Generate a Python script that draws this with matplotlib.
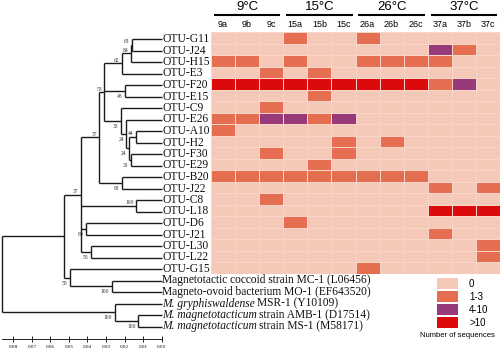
import numpy as np
import matplotlib
matplotlib.use('Agg')
import matplotlib.pyplot as plt
from matplotlib.colors import ListedColormap, BoundaryNorm
import matplotlib.transforms as mtransforms

# tree leaves, top to bottom
leaves = ["OTU-G11", "OTU-J24", "OTU-H15", "OTU-E3", "OTU-F20", "OTU-E15",
          "OTU-C9", "OTU-E26", "OTU-A10", "OTU-H2", "OTU-F30", "OTU-E29",
          "OTU-B20", "OTU-J22", "OTU-C8", "OTU-L18", "OTU-D6", "OTU-J21",
          "OTU-L30", "OTU-L22", "OTU-G15",
          "Magnetotactic coccoid strain MC-1 (L06456)",
          "Magneto-ovoid bacterium MO-1 (EF643520)",
          "M. gryphiswaldense MSR-1 (Y10109)",
          "M. magnetotacticum strain AMB-1 (D17514)",
          "M. magnetotacticum strain MS-1 (M58171)"]
leaf_parent = ["A", "A", "B", "C", "D", "D", "F", "G", "AH", "AH", "FE", "FE",
               "BJ", "BJ", "CL", "CL", "DJ", "DJ", "LL", "LL", "S",
               "MM", "MM", "T", "U", "U"]

# internal nodes: parent, height (distance from tips) and bootstrap support
node_names = ["root", "R", "Q", "P", "E", "C", "B", "A", "D", "F", "G", "H",
              "AH", "FE", "BJ", "CL", "DJ", "LL", "S", "MM", "T", "U"]
node_parent = [None, "root", "R", "Q", "P", "E", "C", "B", "E", "E", "F", "G",
               "H", "H", "P", "Q", "Q", "Q", "R", "S", "root", "T"]
node_height = [0.0862, 0.0525, 0.0435, 0.0336, 0.0309, 0.0216, 0.0166, 0.0161,
               0.0198, 0.0221, 0.0191, 0.0175, 0.0139, 0.0167, 0.0216, 0.0137,
               0.0408, 0.0381, 0.0494, 0.0270, 0.0252, 0.0126]
node_support = [None, None, 37, 37, 53, 62, 84, 63, 48, 33, 24, 24,
                44, 33, 93, 100, 80, 55, 58, 100, 100, 100]
label_above = {"A", "B", "C", "E", "AH", "CL", "Q", "P"}

# heatmap
samples = ['9a', '9b', '9c', '15a', '15b', '15c', '26a', '26b', '26c', '37a', '37b', '37c']
temps = ['9°C', '15°C', '26°C', '37°C']
# 0: "0", 1: "1-3", 2: "4-10", 3: ">10"
counts = [
    [0, 0, 0, 1, 0, 0, 1, 0, 0, 0, 0, 0],  # G11
    [0, 0, 0, 0, 0, 0, 0, 0, 0, 2, 1, 0],  # J24
    [1, 1, 0, 1, 0, 0, 1, 1, 1, 1, 0, 0],  # H15
    [0, 0, 1, 0, 1, 0, 0, 0, 0, 0, 0, 0],  # E3
    [3, 3, 3, 3, 3, 3, 3, 3, 3, 1, 2, 0],  # F20
    [0, 0, 0, 0, 1, 0, 0, 0, 0, 0, 0, 0],  # E15
    [0, 0, 1, 0, 0, 0, 0, 0, 0, 0, 0, 0],  # C9
    [1, 1, 2, 2, 1, 2, 0, 0, 0, 0, 0, 0],  # E26
    [1, 0, 0, 0, 0, 0, 0, 0, 0, 0, 0, 0],  # A10
    [0, 0, 0, 0, 0, 1, 0, 1, 0, 0, 0, 0],  # H2
    [0, 0, 1, 0, 0, 1, 0, 0, 0, 0, 0, 0],  # F30
    [0, 0, 0, 0, 1, 0, 0, 0, 0, 0, 0, 0],  # E29
    [1, 1, 1, 1, 1, 1, 1, 1, 1, 0, 0, 0],  # B20
    [0, 0, 0, 0, 0, 0, 0, 0, 0, 1, 0, 1],  # J22
    [0, 0, 1, 0, 0, 0, 0, 0, 0, 0, 0, 0],  # C8
    [0, 0, 0, 0, 0, 0, 0, 0, 0, 3, 3, 3],  # L18
    [0, 0, 0, 1, 0, 0, 0, 0, 0, 0, 0, 0],  # D6
    [0, 0, 0, 0, 0, 0, 0, 0, 0, 1, 0, 0],  # J21
    [0, 0, 0, 0, 0, 0, 0, 0, 0, 0, 0, 1],  # L30
    [0, 0, 0, 0, 0, 0, 0, 0, 0, 0, 0, 1],  # L22
    [0, 0, 0, 0, 0, 0, 1, 0, 0, 0, 0, 0],  # G15
]
count_labels = ['0', '1-3', '4-10', '>10']
count_colors = ['#F5C8B8', '#E66E50', '#983A7A', '#DC0A0A']

W, H = 500, 352


def px_box(x0, y0, x1, y1):
    return [x0 / W, 1 - y1 / H, (x1 - x0) / W, (y1 - y0) / H]


fig = plt.figure(figsize=(5, 3.52), dpi=100)

# ---- tree ----
ax = fig.add_axes(px_box(0, 30, 170, 339.3))
xpx = 1 / 1855.0   # distance units per pixel
ypx = 1 / 11.5     # leaf rows per pixel
ax.set_xlim(161.7 * xpx, (161.7 - 170) * xpx)
ax.set_ylim((339.3 - 39) * ypx, (30 - 39) * ypx)

children = {n: [] for n in node_names}
for i, p in enumerate(leaf_parent):
    children[p].append(('leaf', i))
for n, p in zip(node_names, node_parent):
    if p is not None:
        children[p].append(('node', n))
height = dict(zip(node_names, node_height))
ypos = {}


def place(n):
    ys = [c if kind == 'leaf' else place(c) for kind, c in children[n]]
    ypos[n] = (min(ys) + max(ys)) / 2
    return ypos[n]


place('root')
lc = '#1a1a1a'
for n in node_names:
    h = height[n]
    ys = []
    for kind, c in children[n]:
        cy = c if kind == 'leaf' else ypos[c]
        ch = 0.0 if kind == 'leaf' else height[c]
        ax.plot([h, ch], [cy, cy], color=lc, lw=1.0, solid_capstyle='butt')
        ys.append(cy)
    ax.plot([h, h], [min(ys), max(ys)], color=lc, lw=1.0, solid_capstyle='butt')

for n, s in zip(node_names, node_support):
    if s is None:
        continue
    dy = -3 if n in label_above else 5.5
    ax.text(height[n] + 2.5 * xpx, ypos[n] + dy * ypx, str(s), ha='right', va='center',
            fontsize=4, family='Liberation Serif', color='#333333')

leaf_font = dict(fontsize=8.3, family='Liberation Serif', color='#111111')
for i, name in enumerate(leaves):
    if name.startswith('M. '):
        # genus and species in italics, strain in roman
        words = name.split(' ')
        t = ax.text(-0.5 * xpx, i, ' '.join(words[:2]), ha='left', va='center',
                    style='italic', clip_on=False, **leaf_font)
        ax.annotate(' '.join(words[2:]), xy=(1, 0.5), xycoords=t, xytext=(1.6, 0),
                    textcoords='offset points', ha='left', va='center', **leaf_font)
    else:
        ax.text(-0.5 * xpx, i, name, ha='left', va='center', clip_on=False, **leaf_font)

for side in ['top', 'right', 'left']:
    ax.spines[side].set_visible(False)
ax.spines['bottom'].set_bounds(height['root'], 0)
ax.spines['bottom'].set_linewidth(0.6)
ticks = [0.08, 0.07, 0.06, 0.05, 0.04, 0.03, 0.02, 0.01, 0.00]
ax.set_xticks(ticks)
ax.set_xticklabels([f'{t:.2f}' for t in ticks], fontsize=3.6, family='Liberation Serif')
ax.tick_params(axis='x', direction='inout', length=4, width=0.6, pad=2)
ax.set_yticks([])

# ---- heatmap ----
hx = fig.add_axes(px_box(211, 32, 500, 273.5))
cmap = ListedColormap(count_colors)
norm = BoundaryNorm([-0.5, 0.5, 1.5, 2.5, 3.5], cmap.N)
hx.pcolormesh(np.arange(len(samples) + 1) - 0.5, np.arange(len(counts) + 1) - 0.5,
              np.array(counts), cmap=cmap, norm=norm, edgecolors='#F7D5C9', linewidth=0.4)
hx.set_xlim(-0.5, len(samples) - 0.5)
hx.set_ylim(len(counts) - 0.5, -0.5)
hx.xaxis.tick_top()
hx.set_xticks(range(len(samples)))
hx.set_xticklabels(samples, fontsize=6.5, family='Liberation Sans')
hx.tick_params(axis='x', length=0, pad=2.5)
hx.set_yticks([])
for side in hx.spines.values():
    side.set_visible(False)

trans = mtransforms.blended_transform_factory(hx.transData, hx.transAxes)
for g, t in enumerate(temps):
    x0, x1 = 3 * g - 0.5 + 0.12, 3 * g + 2.5 - 0.12
    hx.plot([x0, x1], [1 + 17 / 241.5] * 2, color='black', lw=1.5,
            transform=trans, clip_on=False, solid_capstyle='butt')
    hx.text(3 * g + 1, 1 + 25.5 / 241.5, t, ha='center', va='center', fontsize=9.5,
            family='Liberation Sans', transform=trans)

# ---- legend ----
lx = fig.add_axes(px_box(436.7, 277, 500, 340))
lx.barh(range(len(count_labels)), [1] * len(count_labels), left=0, height=0.846,
        color=count_colors)
lx.set_xlim(0, 63.3 / 21)
lx.set_ylim((340 - 283.7) / 13, (277 - 283.7) / 13)
for i, lab in enumerate(count_labels):
    lx.text(1.54, i, lab, ha='left', va='center', fontsize=7, family='Liberation Sans')
lx.text(0.97, 4.0, 'Number of sequences', ha='center', va='center', fontsize=5.5,
        family='Liberation Sans', clip_on=False)
lx.axis('off')

fig.savefig('out.png', dpi=100)
